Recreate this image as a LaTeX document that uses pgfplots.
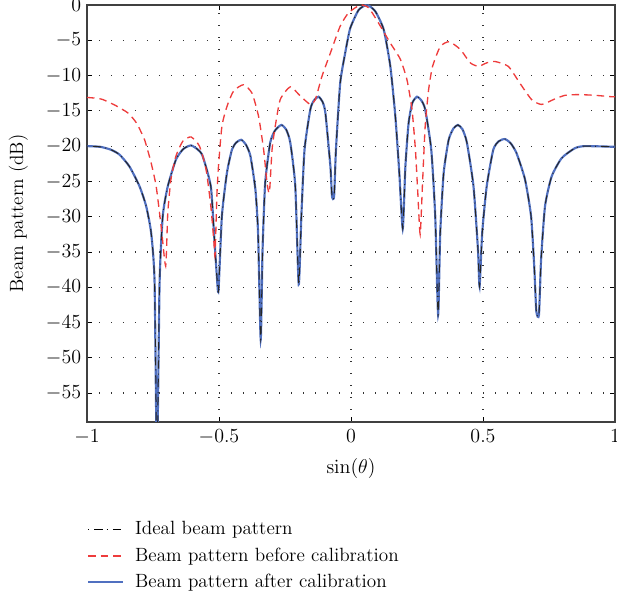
\documentclass[border=0pt]{standalone}
\usepackage{pgfplots}
\pgfplotsset{compat=1.18}
\definecolor{bpred}{RGB}{238,60,60}
\definecolor{bpblue}{RGB}{80,112,192}
\begin{document}
\begin{tikzpicture}
\pgfplotstableread{
x y
-1.000 -20.0
-0.950 -20.1
-0.910 -20.5
-0.877 -21.2
-0.839 -22.9
-0.801 -25.7
-0.776 -28.5
-0.757 -32.3
-0.744 -39.3
-0.735 -65
-0.725 -39.3
-0.713 -29.9
-0.694 -25.7
-0.663 -21.9
-0.635 -20.4
-0.606 -19.9
-0.580 -20.5
-0.562 -21.4
-0.531 -25.7
-0.519 -32.3
-0.508 -38.5
-0.502 -40.5
-0.489 -29.9
-0.470 -23.8
-0.451 -20.5
-0.435 -19.5
-0.416 -19.1
-0.398 -19.8
-0.381 -21.4
-0.362 -26.2
-0.352 -32.3
-0.342 -47.4
-0.335 -34.7
-0.325 -25.2
-0.306 -19.5
-0.288 -17.8
-0.264 -17.0
-0.245 -17.7
-0.230 -19.5
-0.211 -25.7
-0.198 -39.6
-0.188 -29.9
-0.176 -20.5
-0.154 -14.8
-0.140 -13.5
-0.123 -13.0
-0.108 -13.7
-0.097 -15.3
-0.078 -22.9
-0.072 -27.1
-0.064 -27.1
-0.057 -20.5
-0.041 -11.1
-0.022 -6.8
-0.003 -3.3
0.029 -0.7
0.061 0
0.092 -0.9
0.124 -3.5
0.149 -8.7
0.168 -15.8
0.183 -23.8
0.196 -31.7
0.206 -22.9
0.218 -16.8
0.232 -13.9
0.250 -13.0
0.266 -13.5
0.281 -14.8
0.304 -20.5
0.319 -29.9
0.330 -43.9
0.338 -32.3
0.351 -23.8
0.370 -19.1
0.388 -17.5
0.405 -17.0
0.422 -17.6
0.439 -19.5
0.464 -25.7
0.481 -34.7
0.487 -39.9
0.497 -32.3
0.514 -25.7
0.539 -20.5
0.560 -19.3
0.583 -19.0
0.605 -19.6
0.627 -21.0
0.659 -24.7
0.682 -29.9
0.694 -37.0
0.702 -43.4
0.712 -43.9
0.720 -36.1
0.735 -28.5
0.760 -24.3
0.798 -21.7
0.848 -20.3
0.886 -20.0
1.000 -20.1
}\ideal
\pgfplotstableread{
x y
-1.000 -13.1
-0.970 -13.2
-0.940 -13.4
-0.889 -14.3
-0.845 -15.3
-0.813 -16.7
-0.782 -19.1
-0.757 -22.4
-0.738 -25.7
-0.719 -31.4
-0.702 -37.0
-0.694 -29.5
-0.682 -24.7
-0.663 -21.4
-0.637 -19.3
-0.606 -18.7
-0.574 -20.0
-0.549 -23.3
-0.531 -28.5
-0.520 -33.2
-0.515 -35.5
-0.508 -27.0
-0.502 -22.9
-0.489 -17.2
-0.470 -14.4
-0.445 -12.2
-0.407 -11.3
-0.375 -12.5
-0.350 -15.8
-0.331 -20.5
-0.318 -25.2
-0.309 -26.6
-0.299 -20.5
-0.287 -17.2
-0.268 -13.4
-0.230 -11.6
-0.192 -12.9
-0.154 -14.1
-0.135 -13.4
-0.110 -10.1
-0.078 -6.8
-0.041 -3.0
-0.009 -1.1
0.035 0
0.067 -0.4
0.105 -2.6
0.149 -5.4
0.187 -7.7
0.212 -10.6
0.231 -14.8
0.244 -20.5
0.253 -26.6
0.262 -32.5
0.271 -25.2
0.281 -17.2
0.294 -12.0
0.309 -8.7
0.338 -5.9
0.372 -5.2
0.414 -6.3
0.452 -8.2
0.483 -8.7
0.514 -8.2
0.545 -8.0
0.596 -8.7
0.640 -11.1
0.684 -13.4
0.722 -14.1
0.773 -13.3
0.811 -12.8
0.861 -12.7
0.924 -12.8
0.986 -13.0
1.000 -13.0
}\before
\begin{axis}[
  scale only axis,
  width=316.8pt, height=250.2pt,
  xmin=-1, xmax=1, ymin=-59.1, ymax=0,
  xtick={-1,-0.5,0,0.5,1},
  xticklabels={$-1$,$-0.5$,$0$,$0.5$,$1$},
  ytick={0,-5,-10,-15,-20,-25,-30,-35,-40,-45,-50,-55},
  tick align=inside,
  major tick length=3pt,
  tick style={black, line width=0.5pt},
  axis line style={black!75, line width=0.7pt},
  grid=major,
  major grid style={black!80, line width=0.7pt, dash pattern=on 0.7pt off 6.5pt},
  font=\fontsize{11.5}{13.5}\selectfont,
  tick label style={font=\fontsize{11.5}{13.5}\selectfont},
  xticklabel style={yshift=-1pt},
  xlabel={$\sin(\theta)$},
  ylabel={Beam pattern (dB)},
  xlabel style={yshift=-2pt},
  ylabel style={yshift=4pt},
  legend style={at={(0,-0.23)}, anchor=north west, draw=none, fill=none,
    inner sep=0pt, row sep=2.2pt, font=\fontsize{11.5}{13.5}\selectfont,
    cells={anchor=west}},
  legend image code/.code={\draw[#1] (0cm,0cm) -- (0.74cm,0cm); \path (0.9cm,0cm);},
]
\addplot[bpblue, line width=1.3pt, smooth, tension=0.35, forget plot] table {\ideal};
\addplot[black!85, line width=0.6pt, smooth, tension=0.35, dash pattern=on 0.6pt off 3pt on 5pt off 2.4pt, forget plot] table {\ideal};
\addplot[bpred, line width=0.8pt, smooth, tension=0.35, dash pattern=on 4.5pt off 3pt, forget plot] table {\before};
\addlegendimage{black, line width=0.7pt, dash pattern=on 0.7pt off 3pt on 5pt off 2.4pt}
\addlegendimage{bpred, line width=1.1pt, dash pattern=on 4.5pt off 3pt}
\addlegendimage{bpblue, line width=1.1pt}
\legend{Ideal beam pattern, Beam pattern before calibration, Beam pattern after calibration}
\end{axis}
\pgfresetboundingbox
\path ([shift={(-52.2pt,-105.6pt)}]current axis.south west) rectangle ([shift={(1.2pt,3pt)}]current axis.north east);
\end{tikzpicture}
\end{document}
